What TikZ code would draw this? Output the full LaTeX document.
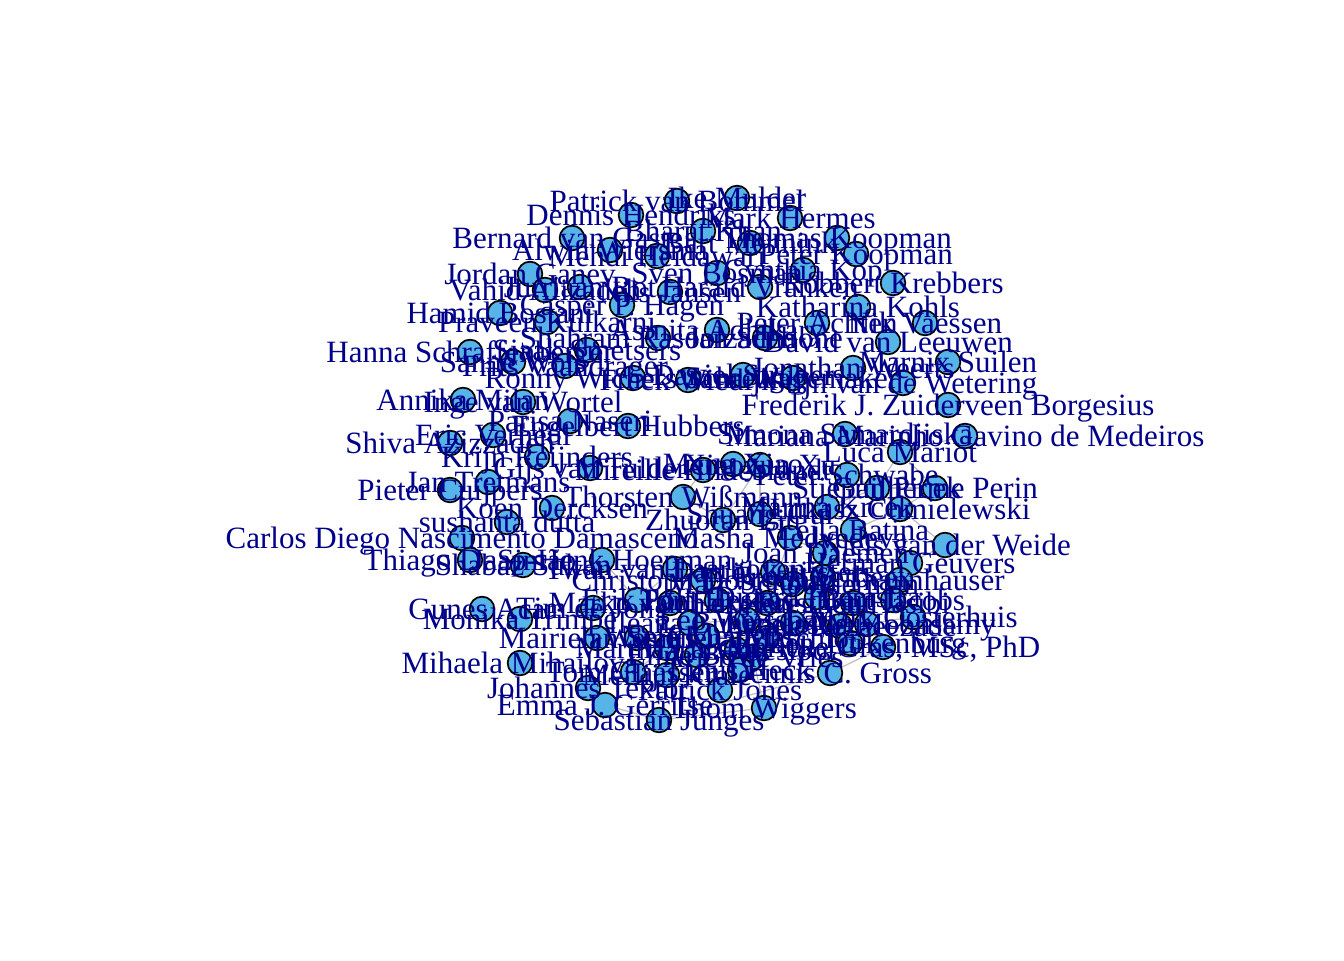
\documentclass[tikz,border=0pt]{standalone}
\usepackage{fontspec}
\setmainfont{Liberation Serif}
\newfontfamily\lblserif{Liberation Serif}
\newcommand\lblfont{\lblserif\fontsize{23.25}{28}\selectfont}
\definecolor{vfill}{RGB}{86,180,233}
\definecolor{lblcol}{RGB}{0,0,139}
\definecolor{edgecol}{RGB}{190,190,190}
\def\nodelist{%
1/677/201/{Patrick van Bommel},
2/737/198/{Ike Mulder},
3/631/215/{Dennis Hendriks},
4/790/218/{Mark Hermes},
5/703/231/{Bharat Khan},
6/572/238/{Bernard van Gastel},
7/837/238/{Thomas Koopman},
8/610/250/{Alwin Wiersma},
9/657/256/{Mehdi Heidawari},
10/750/243/{Bart Mennink},
11/856/254/{Peter Koopman},
12/530/274/{Jordan Ganev},
13/717/273/{Sven Bosman},
14/803/270/{Cynthia Kop},
15/893/283/{Robbert Krebbers},
16/545/290/{Vahid Alizadeh},
17/670/292/{Nils Jansen},
18/760/287/{Harald Vranken},
19/580/287/{Jurriaan Rot},
20/622/305/{Casper P. Hagen},
21/858/307/{Katharina Kohls},
22/500/313/{Hamid Bostani},
23/547/322/{Praveen Kulkarni},
24/817/323/{Peter Achten},
25/925/323/{Nik Vaessen},
26/717/330/{Asmita Adhikary},
27/658/338/{Shahram Rasoolzadeh},
28/765/338/{Jan Schoone},
29/888/342/{David van Leeuwen},
30/470/352/{Hanna Schraffenberger},
31/587/350/{Sjaak Smetsers},
32/513/362/{Sanne Wols},
33/565/366/{Frits Vaandrager},
34/633/378/{Ronny Wichers Schreur},
35/688/380/{Freek Wiedijk},
36/743/375/{Daniel Strüber},
37/793/378/{Jana Wagemaker},
38/853/368/{Jonathan Weerts},
39/948/362/{Marnix Suilen},
40/903/383/{Stijn van de Wetering},
41/463/400/{Annika Milan},
42/523/402/{Inge van Wortel},
43/948/405/{Frederik J. Zuiderveen Borgesius},
44/570/421/{Parisa Naseri},
45/628/426/{Engelbert Hubbers},
46/493/435/{Eric Verheul},
47/450/443/{Shiva Azizzadeh},
48/845/434/{Simona Samardjiska},
49/965/436/{Mariana Marinho Gavino de Medeiros},
50/900/452/{Luca Mariot},
51/537/457/{Krijn Reijnders},
52/590/468/{Gijs van Tulder},
53/703/470/{Mireille Hildebrandt},
54/733/464/{Meng Xiao},
55/760/465/{Xiaoyun Xu},
56/847/475/{Peter Schwabe},
57/877/488/{Stjepan Picek},
58/935/488/{Guilherme Perin},
59/488/482/{Jan Tretmans},
60/450/490/{Pieter Cuijpers},
61/683/497/{Thorsten Wißmann},
62/552/508/{Koen Dercksen},
63/900/509/{Lukasz Chmielewski},
64/723/520/{Zhuoran Liu},
65/760/514/{Shuang Gui},
66/827/507/{Marina Krček},
67/507/522/{sushanta dutta},
68/853/530/{Lejla Batina},
69/462/538/{Carlos Diego Nascimento Damasceno},
70/790/538/{Masha Medvedeva},
71/945/545/{Niels van der Weide},
72/825/553/{Joan Daemen},
73/602/560/{Jaap-Henk Hoepman},
74/470/560/{Thiago D. Simão},
75/910/563/{Herman Geuvers},
76/523/565/{Shabaz Sultan},
77/675/569/{Twan van Laarhoven},
78/900/580/{Jan Thannhauser},
79/893/600/{Bart Jacobs},
80/913/617/{Mark Oosterhuis},
81/867/624/{Veelasha Moonsamy},
82/883/647/{Marieke Gras, MSc, PhD},
83/830/673/{Dennis C. Gross},
84/764/708/{Thom Wiggers},
85/659/720/{Sebastian Junges},
86/605/705/{Emma J. Gerritse},
87/588/688/{Johannes Textor},
88/633/672/{Tom Claassen},
89/520/663/{Mihaela Mihailova},
90/753/657/{Arjen de Vries},
91/667/648/{Martha Larson},
92/597/638/{Mairieh Westen},
93/482/609/{Gunes Acar},
94/520/619/{Monika Trimpe},
95/593/608/{Tim de Jong},
96/720/690/{Patrick Jones},
97/637/600/{Erik Poll},
98/703/580/{Christoph Dobraunig},
99/773/572/{Daniël Kuijsters},
100/793/584/{Marc Schoolderman},
101/823/577/{Freek Verbeek},
102/670/603/{Marko van Eekelen},
103/717/600/{Tom Heskes},
104/767/603/{Johan Kwisthout},
105/817/597/{Djoerd Hiemstra},
106/853/603/{Faegheh Hasibi},
107/690/623/{Ileana Buhan},
108/747/620/{Léo Weissbart},
109/793/623/{Lichao Wu},
110/840/626/{Azade Rezaeezade},
111/637/638/{Jan Smits},
112/707/636/{Nele Mentens},
113/767/638/{Elena Marchiori},
114/850/643/{Ruben Turkenburg},
115/737/650/{Maris Galesloot},
116/697/655/{Eline Bovy},
117/740/670/{Linus Heck},
118/667/675/{Merlijn Krale}%
}
\begin{document}
\begin{tikzpicture}[x=0.75pt,y=-0.75pt,
  vtx/.style={circle,draw=black,line width=1.3pt,fill=vfill,minimum size=18.5pt,inner sep=0pt},
  lbl/.style={text=lblcol,font=\lblfont,inner sep=0pt,text height=15.3pt,text depth=0pt,anchor=center},
  edge/.style={draw=edgecol,line width=0.9pt}]
\fill[white] (0,0) rectangle (1344,960);
\useasboundingbox (0,0) rectangle (1344,960);
\foreach \i/\x/\y/\t in \nodelist { \coordinate (p\i) at (\x,\y); }
\foreach \a/\b in {50/57,50/58,57/58,57/63,58/63,56/57,56/68,68/63,68/72,72/70,66/57,66/68,55/64,55/65,64/65,
  65/70,70/104,72/101,101/105,105/106,106/79,79/80,80/81,81/82,82/83,83/85,85/84,84/90,90/117,117/96,
  73/97,97/102,102/103,103/104,104/105,99/100,100/101,98/103,98/77,77/97,91/88,88/87,87/86,86/85,
  91/116,116/107,107/108,108/109,109/110,110/114,114/82,111/92,111/107,112/113,113/115,115/90,
  78/79,78/75,75/71,71/63,48/50,49/50,53/61,61/64,54/55,109/113,100/109,99/104}
  { \draw[edge] (p\a) -- (p\b); }
\foreach \i/\x/\y/\t in \nodelist { \node[vtx] (v\i) at (p\i) {}; }
\foreach \i/\x/\y/\t in \nodelist { \node[lbl] (l\i) at (p\i) {\t}; }
\end{tikzpicture}
\end{document}
